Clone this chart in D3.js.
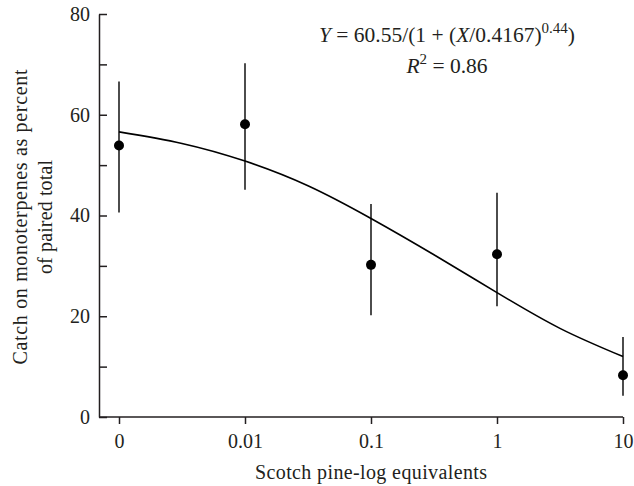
<!DOCTYPE html>
<html>
<head>
<meta charset="utf-8">
<script src="https://cdn.jsdelivr.net/npm/d3@7"></script>
<style>
  body { margin: 0; background: #fff; }
</style>
</head>
<body>
<div id="chart"></div>
<script>
/* data */
const doseLabels = ["0", "0.01", "0.1", "1", "10"];
const doseValues = [0.001, 0.01, 0.1, 1, 10];   // "0" sits one decade left of 0.01
const catchMean = [53.9, 58.1, 30.2, 32.3, 8.3];
const errLow = [40.6, 45.1, 20.2, 22.0, 4.2];
const errHigh = [66.6, 70.2, 42.3, 44.5, 15.9];
/* fitted curve */
const fitX = [0.001, 0.00316, 0.01, 0.0316, 0.1, 0.316, 1, 3.16, 10];
const fitY = [56.6, 54.3, 50.8, 45.9, 39.4, 32.2, 24.7, 17.6, 12.0];
const yTicks = [0, 10, 20, 30, 40, 50, 60, 70, 80];

const W = 634, H = 486;
const axisLeftX = 99, axisBottomY = 417;
const ink = "#231f20";
const serif = "'Liberation Serif', 'DejaVu Serif', serif";

const svg = d3.select("#chart").append("svg")
    .attr("width", W).attr("height", H)
    .style("font-family", serif);

/* scales */
const x = d3.scaleLog().domain([0.001, 10]).range([119, 623]);
const y = d3.scaleLinear().domain([0, 80]).range([axisBottomY, 14]);

/* y axis, ticks pointing inward */
const gy = svg.append("g")
    .attr("transform", `translate(${axisLeftX},0)`)
    .call(d3.axisLeft(y).tickValues(yTicks)
        .tickSizeInner(-8).tickSizeOuter(0).tickPadding(9)
        .tickFormat(d => d % 20 === 0 ? d : ""));
gy.attr("font-family", null);
gy.select(".domain").attr("stroke", ink).attr("stroke-width", 1.5);
gy.selectAll(".tick line").attr("stroke", ink).attr("stroke-width", 1.5);
gy.selectAll(".tick text").style("font-family", serif).style("font-size", "20px").attr("fill", ink);

/* x axis */
const gx = svg.append("g")
    .attr("transform", `translate(0,${axisBottomY})`)
    .call(d3.axisBottom(x).tickValues(doseValues)
        .tickSizeInner(7).tickSizeOuter(0).tickPadding(10)
        .tickFormat((d, i) => doseLabels[i]));
gx.attr("font-family", null);
gx.select(".domain").attr("d", `M${axisLeftX},0H${x(10)}`)
    .attr("stroke", ink).attr("stroke-width", 1.5);
gx.selectAll(".tick line").attr("stroke", ink).attr("stroke-width", 1.5);
gx.selectAll(".tick text").style("font-family", serif).style("font-size", "20px").attr("fill", ink);

/* fitted curve */
const fitLine = d3.line()
    .x((d, i) => x(fitX[i]))
    .y(d => y(d))
    .curve(d3.curveNatural);
svg.append("path")
    .datum(fitY)
    .attr("fill", "none")
    .attr("stroke", "#000")
    .attr("stroke-width", 1.6)
    .attr("d", fitLine);

/* error bars */
svg.selectAll(".err")
    .data(catchMean)
    .enter()
    .append("line")
    .attr("class", "err")
    .attr("x1", (d, i) => x(doseValues[i]))
    .attr("x2", (d, i) => x(doseValues[i]))
    .attr("y1", (d, i) => y(errLow[i]))
    .attr("y2", (d, i) => y(errHigh[i]))
    .attr("stroke", "#000")
    .attr("stroke-width", 1.4);

/* means */
svg.selectAll(".dot")
    .data(catchMean)
    .enter()
    .append("circle")
    .attr("class", "dot")
    .attr("cx", (d, i) => x(doseValues[i]))
    .attr("cy", d => y(d))
    .attr("r", 5)
    .attr("fill", "#000");

/* axis titles */
svg.append("text")
    .attr("x", 371).attr("y", 479)
    .attr("text-anchor", "middle")
    .attr("fill", ink)
    .style("font-family", serif)
    .style("font-size", "20px")
    .attr("textLength", 232)
    .text("Scotch pine-log equivalents");

const yTitle = svg.append("text")
    .attr("transform", "translate(27,217) rotate(-90)")
    .attr("text-anchor", "middle")
    .attr("fill", ink)
    .style("font-family", serif)
    .style("font-size", "20px");
yTitle.append("tspan").attr("x", 0).attr("y", 0)
    .attr("textLength", 295)
    .text("Catch on monoterpenes as percent");
yTitle.append("tspan").attr("x", 0).attr("y", 25)
    .attr("textLength", 114)
    .text("of paired total");

/* equation */
const eq = svg.append("text")
    .attr("x", 447).attr("y", 42)
    .attr("text-anchor", "middle")
    .attr("fill", ink)
    .style("font-family", serif)
    .style("font-size", "21.5px");
eq.append("tspan").attr("font-style", "italic").text("Y");
eq.append("tspan").text(" = 60.55/(1 + (");
eq.append("tspan").attr("font-style", "italic").text("X");
eq.append("tspan").text("/0.4167)");
eq.append("tspan").attr("dy", -9).style("font-size", "15px").text("0.44");
eq.append("tspan").attr("dy", 9).text(")");

const r2 = svg.append("text")
    .attr("x", 447).attr("y", 73)
    .attr("text-anchor", "middle")
    .attr("fill", ink)
    .style("font-family", serif)
    .style("font-size", "21.5px");
r2.append("tspan").attr("font-style", "italic").text("R");
r2.append("tspan").attr("dy", -9).style("font-size", "15px").text("2");
r2.append("tspan").attr("dy", 9).text(" = 0.86");
</script>
</body>
</html>
